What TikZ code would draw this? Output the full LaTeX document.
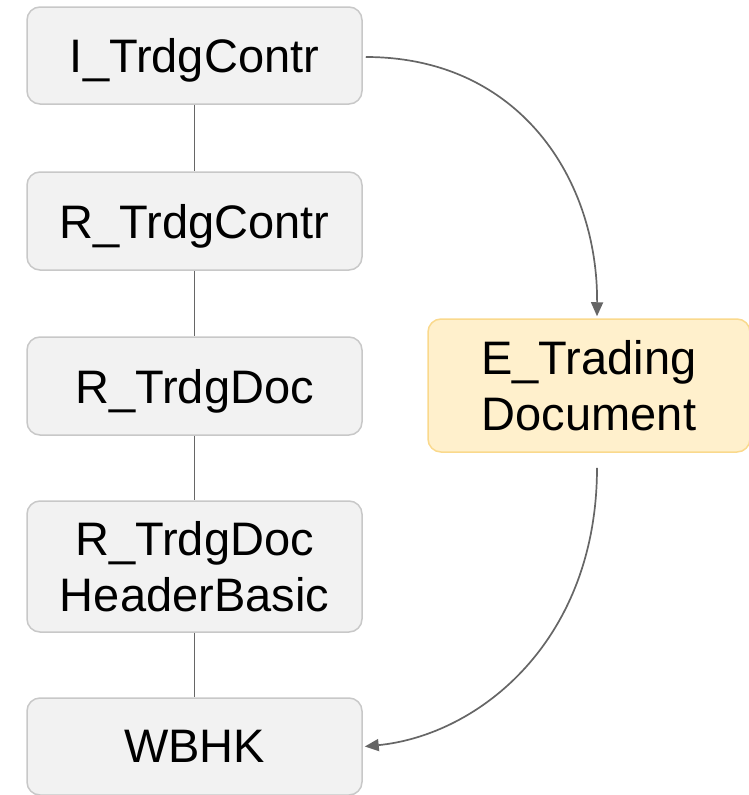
\documentclass[tikz,border=0pt]{standalone}
\usepackage{fontspec}
\setmainfont{Liberation Sans}
\usetikzlibrary{arrows.meta}
\definecolor{boxfill}{HTML}{F2F2F2}
\definecolor{boxline}{HTML}{C8C8C8}
\definecolor{yfill}{HTML}{FFF0CC}
\definecolor{yline}{HTML}{FAD98C}
\definecolor{conn}{HTML}{666666}
\begin{document}
\begin{tikzpicture}[x=1pt,y=-1pt,
  gbox/.style={draw=boxline,fill=boxfill,line width=1.5pt,rounded corners=13pt,
    minimum width=335pt,inner sep=0pt,align=center,text depth=0pt,
    font=\fontsize{47}{56}\selectfont},
  ybox/.style={gbox,draw=yline,fill=yfill,minimum width=322pt},
  link/.style={draw=conn,line width=1.7pt},
  arr/.style={link,-{Triangle[length=14pt,width=12pt]}}]
\useasboundingbox (0,0) rectangle (749,795);
\node[gbox,minimum height=97pt] (a) at (194.5,55.5) {I\_TrdgContr};
\node[gbox,minimum height=98pt] (b) at (194.5,221) {R\_TrdgContr};
\node[gbox,minimum height=98pt] (c) at (194.5,386) {R\_TrdgDoc};
\node[gbox,minimum height=131pt] (d) at (194.5,566.5) {R\_TrdgDoc\\HeaderBasic};
\node[gbox,minimum height=97pt] (e) at (194.5,746.5) {WBHK};
\node[ybox,minimum height=133pt] (f) at (589,385.5) {E\_Trading\\Document};
\draw[link] (a.south) -- (b.north);
\draw[link] (b.south) -- (c.north);
\draw[link] (c.south) -- (d.north);
\draw[link] (d.south) -- (e.north);
\coordinate (s1) at ([xshift=3pt,yshift=-1.5pt]a.east);
\coordinate (t1) at ([xshift=8pt,yshift=2pt]f.north);
\draw[arr] (s1) .. controls (520,57) and (598,180) .. (t1);
\coordinate (s2) at ([xshift=8pt,yshift=-15pt]f.south);
\coordinate (t2) at ([xshift=2pt]e.east);
\draw[arr] (s2) .. controls (597,640) and (480,735) .. (t2);
\end{tikzpicture}
\end{document}
